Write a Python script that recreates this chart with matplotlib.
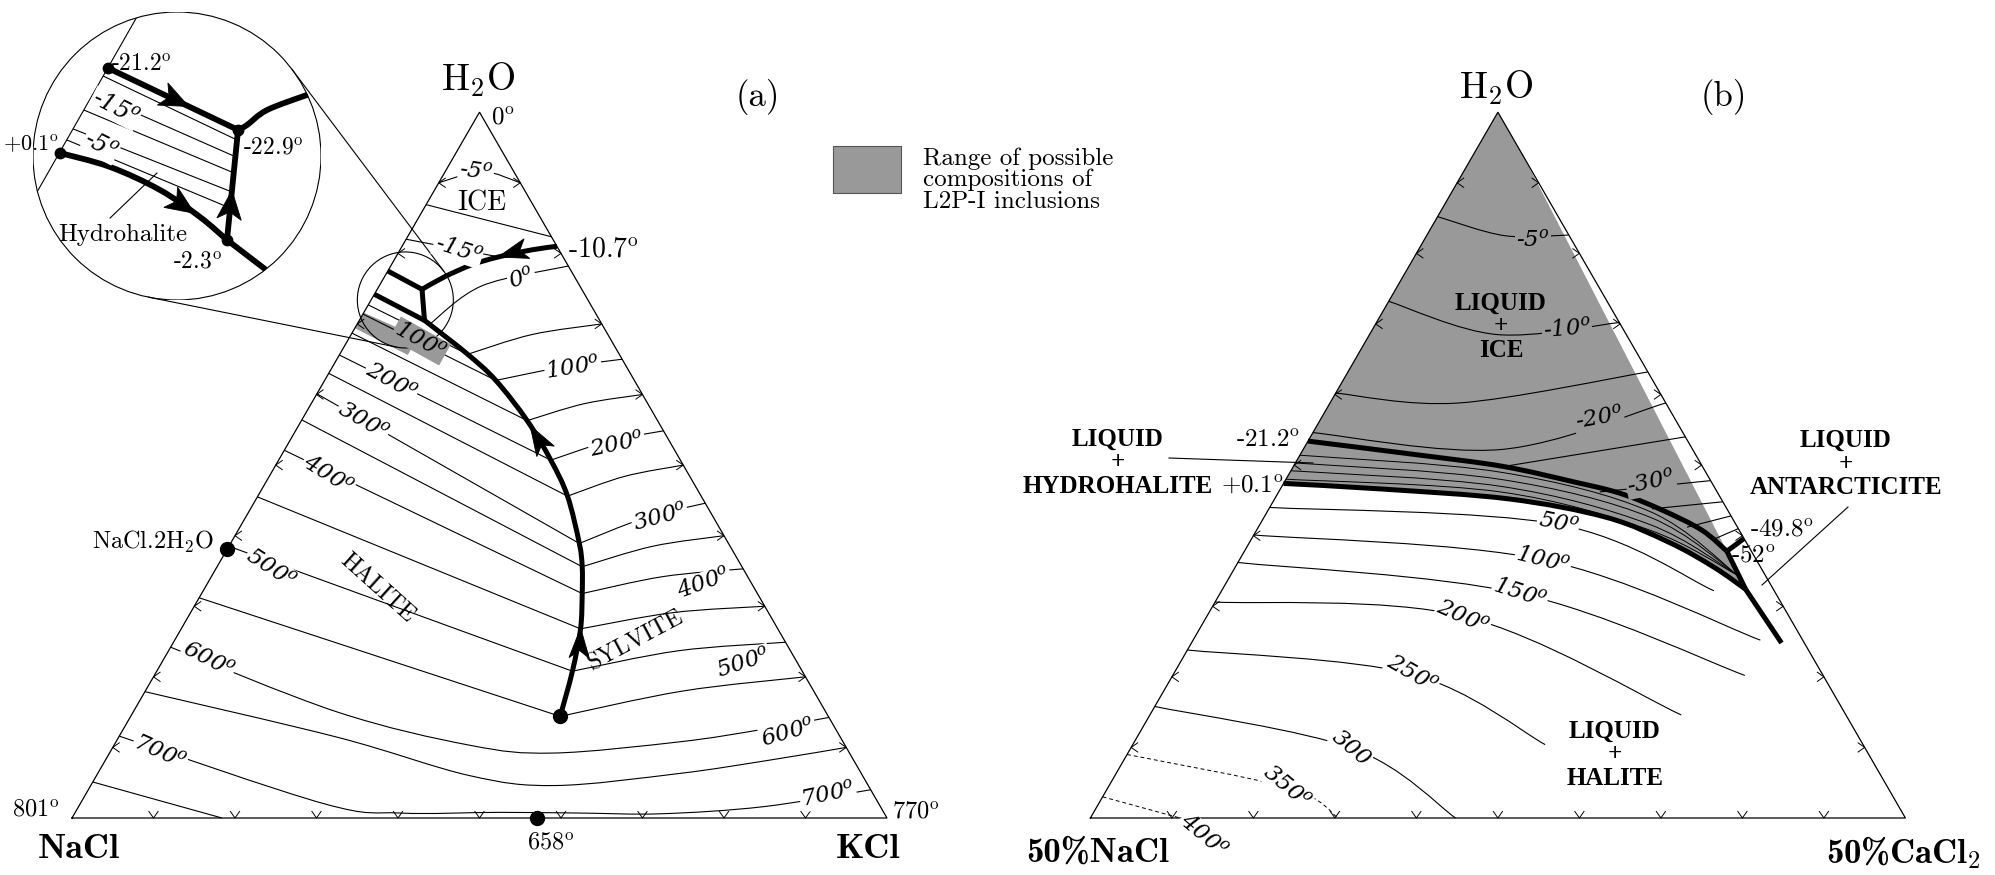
import numpy as np
import matplotlib
matplotlib.use("Agg")
import matplotlib.pyplot as plt
from matplotlib.path import Path
from matplotlib.patches import PathPatch, Circle, Polygon, Rectangle

plt.rcParams["mathtext.fontset"] = "cm"
plt.rcParams["axes.unicode_minus"] = False

W_PX, H_PX = 1995, 875
SIDE = 815.0        # triangle side, px
BASE_Y = 818.0      # common base line, px from top
A_X0 = 72.0         # left corner of panel (a)
B_X0 = 1090.4       # left corner of panel (b)
R3 = np.sqrt(3) / 2
GRAY = "#999999"

# ---------------------------------------------------------------
# (a) NaCl - KCl - H2O, compositions in wt% (H2O, KCl)
# ---------------------------------------------------------------
nacl_eut = (77.5, 0.0)        # -21.2
tern_eut = (74.9, 5.5)        # -22.9
tern_per = (70.5, 8.0)        # -2.3
hydrohalite = (38.1, 0.0)     # NaCl.2H2O
kcl_nacl_min = (0.0, 57.1)    # 658

ice_syl_h2o = [81.0, 80.5, 79.5, 78.4, 76.7, 74.9]
ice_syl_kcl = [19.0, 16.2, 12.6, 9.9, 7.4, 5.5]

hh_hal_h2o = [74.2, 72.4, 70.5]
hh_hal_kcl = [0.0, 3.9, 8.0]

# halite / sylvite cotectic, by temperature
cot_T = [-2.3, 0, 50, 100, 150, 200, 250, 300, 350, 400, 450, 500, 550]
cot_h2o = [70.5, 69.95, 65.7, 62.0, 56.3, 50.7, 45.6, 38.9, 35.6, 31.8, 26.8, 20.8, 14.4]
cot_kcl = [8.0, 8.9, 15.7, 21.0, 27.7, 33.4, 38.0, 42.8, 44.8, 46.7, 49.0, 51.0, 52.7]

# ice isotherms
ice5_h2o, ice5_kcl = [90.0, 91.6, 90.0], [0.0, 4.5, 10.0]
ice10_h2o, ice10_kcl = [86.9, 82.35], [0.0, 17.65]
ice15_h2o, ice15_kcl = [82.0, 79.5], [0.0, 12.6]

# halite isotherms: NaCl-H2O edge start -> cotectic
hal_T = [50, 100, 150, 200, 250, 300, 350, 400, 450, 500, 550]
hal_edge_h2o = [72.7, 71.4, 68.7, 65.6, 63.0, 60.1, 56.4, 52.1, 45.5, 38.5, 31.2]

# sylvite isotherms: cotectic -> mid -> KCl-H2O edge
syl_T = [0, 50, 100, 150, 200, 250, 300, 350, 400, 450, 500, 550]
syl_mid_h2o = [75.4, 68.5, 63.8, 58.7, 53.4, 48.4, 42.5, 38.5, 34.2, 29.1, 23.7, 18.0]
syl_mid_kcl = [12.6, 22.2, 27.9, 33.5, 39.2, 43.6, 49.0, 52.0, 55.4, 59.2, 62.6, 66.0]
syl_edge_h2o = [78.2, 70.0, 65.0, 60.0, 54.85, 50.0, 44.6, 40.0, 35.3, 30.0, 24.9, 20.0]

# high-temperature isotherms running over the NaCl-KCl minimum
iso600_h2o = [24.2, 15.0, 10.3, 9.2, 10.8, 12.5, 14.25]
iso600_kcl = [0.0, 25.1, 43.7, 54.4, 69.2, 78.2, 85.75]
iso650_h2o = [17.9, 11.4, 6.0, 4.6, 6.3, 8.2, 10.0]
iso650_kcl = [0.0, 27.0, 45.8, 57.0, 71.3, 81.5, 90.0]
iso700_h2o = [11.6, 2.0, 0.7, 0.8, 0.7, 0.6, 1.6, 4.0]
iso700_kcl = [0.0, 30.0, 40.0, 52.0, 62.0, 72.0, 84.0, 96.0]
iso750_h2o, iso750_kcl = [5.1, 0.0], [0.0, 18.4]

# L2P-I composition range
l2p_a_h2o = [71.6, 69.4, 65.6, 68.15]
l2p_a_kcl = [0.0, 0.0, 8.4, 8.4]

# magnified area
zoom_center = (73.4, 4.2)

# schematic enlargement (unit circle coordinates)
ins_edge = [(-0.271, 0.979), (-0.972, -0.25)]
ins_upper = [(-0.479, 0.611), (0.424, 0.181)]
ins_branch = [(0.424, 0.181), (0.486, 0.215), (0.625, 0.319), (0.903, 0.424), (1.05, 0.47)]
ins_vert = [(0.424, 0.181), (0.347, -0.583)]
ins_lower = [(-0.8125, 0.021), (-0.465, -0.076), (-0.118, -0.236), (0.160, -0.424), (0.347, -0.583)]
ins_lower_tail = [(0.347, -0.583), (0.611, -0.785), (0.85, -0.97)]
ins_iso = [[(-0.514, 0.556), (0.417, 0.111)],
           [(-0.583, 0.431), (0.410, -0.007)],
           [(-0.646, 0.319), (0.396, -0.118)],
           [(-0.722, 0.188), (0.382, -0.250)],
           [(-0.764, 0.111), (0.368, -0.361)]]
ins_dots = [(-0.479, 0.611), (-0.8125, 0.021), (0.424, 0.181), (0.347, -0.583)]
ins_pointer = [(-0.465, -0.431), (-0.139, -0.118)]

# ---------------------------------------------------------------
# (b) H2O - 50%NaCl - 50%CaCl2, compositions in wt% (NaCl, CaCl2)
# ---------------------------------------------------------------
b_ice_hh_nacl = [23.3, 16.9, 12.2, 8.4, 6.0, 4.0, 2.3, 1.5]
b_ice_hh_cacl = [0.0, 7.4, 12.9, 17.8, 21.0, 24.2, 27.3, 29.6]
b_hh_hal_nacl = [26.3, 20.4, 13.0, 7.7, 4.7, 2.85, 1.7]
b_hh_hal_cacl = [0.0, 6.3, 14.4, 21.0, 25.8, 29.4, 32.1]
b_eut_merge_nacl, b_eut_merge_cacl = [1.5, 1.7], [29.6, 32.1]
b_hal_ant_nacl, b_hal_ant_cacl = [1.7, 1.4], [32.1, 36.2]
b_ice_ant_nacl, b_ice_ant_cacl = [1.5, 0.0], [29.6, 30.2]
b_gray_edge = (0.0, 3.4)

b_ice_T = [-5, -10, -15, -20]
b_ice_nacl = [[7.4, 3.95, 0.0], [13.4, 7.95, 0.0], [19.9, 12.7, 0.0], [22.7, 11.8, 0.0]]
b_ice_cacl = [[0.0, 4.8, 8.7], [0.0, 7.8, 14.9], [0.0, 7.9, 18.4], [0.0, 12.1, 20.6]]
b_ice2_T = [-25, -30, -35, -40, -45]
b_ice2_nacl = [[12.2, 0.0], [7.2, 0.0], [4.6, 0.0], [3.1, 0.0], [2.0, 0.0]]
b_ice2_cacl = [[12.9, 23.0], [19.7, 26.1], [23.5, 27.6], [26.3, 28.6], [28.3, 29.5]]

b_hh_nacl = [[24.3, 12.6, 4.8, 1.7], [24.85, 12.9, 5.0, 1.7], [25.4, 13.1, 5.3, 1.7], [26.0, 13.3, 5.5, 1.7]]
b_hh_cacl = [[0.0, 12.9, 23.5, 31.1], [0.0, 13.1, 23.7, 31.1], [0.0, 13.4, 23.9, 31.1], [0.0, 13.6, 24.1, 31.1]]

b_hal_T = [50, 100, 150, 200, 250, 300]
b_hal_nacl = [[28.0, 10.9, 3.7], [29.95, 13.1, 2.6], [31.9, 15.7, 4.8],
              [34.7, 20.0, 10.1], [38.1, 25.2, 19.5], [42.1, 31.4, 27.6]]
b_hal_cacl = [[0.0, 18.3, 30.2], [0.0, 18.6, 34.8], [0.0, 18.4, 35.1],
              [0.0, 15.7, 32.6], [0.0, 14.6, 25.3], [0.0, 13.7, 22.4]]
b_dash_T = [350, 400]
b_dash_nacl = [[45.5, 36.7, 34.8], [48.5, 44.5]]
b_dash_cacl = [[0.0, 11.2, 15.2], [0.0, 5.5]]


def tern_a(h2o, kcl):
    h = np.asarray(h2o, float) / 100
    k = np.asarray(kcl, float) / 100
    return k + h / 2, R3 * h


def tern_b(nacl, cacl):
    n = np.asarray(nacl, float) / 50
    c = np.asarray(cacl, float) / 50
    w = 1 - n - c
    return c + w / 2, R3 * w


def smooth(x, y):
    x, y = np.asarray(x, float), np.asarray(y, float)
    n = len(x)
    if n < 3:
        return Path(np.column_stack([x, y]))
    verts, codes = [(x[0], y[0])], [Path.MOVETO]
    for i in range(n - 1):
        i0, i3 = max(i - 1, 0), min(i + 2, n - 1)
        c1 = (x[i] + (x[i + 1] - x[i0]) / 6, y[i] + (y[i + 1] - y[i0]) / 6)
        c2 = (x[i + 1] - (x[i3] - x[i]) / 6, y[i + 1] - (y[i3] - y[i]) / 6)
        verts += [c1, c2, (x[i + 1], y[i + 1])]
        codes += [Path.CURVE4] * 3
    return Path(verts, codes)


def curve(ax, x, y, lw=0.8, ls="-", z=3, clip=None):
    p = PathPatch(smooth(x, y), fill=False, lw=lw, ec="k", ls=ls,
                  capstyle="butt", joinstyle="round", zorder=z)
    ax.add_patch(p)
    if clip is not None:
        p.set_clip_path(clip)
    return p


def arrowhead(ax, x, y, frac, sign=1, length=0.037, width=0.025, clip=None):
    pts = np.column_stack([x, y])
    seg = np.diff(pts, axis=0)
    L = np.hypot(seg[:, 0], seg[:, 1])
    cum = np.concatenate([[0], np.cumsum(L)])
    s = frac * cum[-1]
    i = int(np.clip(np.searchsorted(cum, s) - 1, 0, len(L) - 1))
    tip = pts[i] + (s - cum[i]) / L[i] * seg[i]
    d = sign * seg[i] / L[i]
    nrm = np.array([-d[1], d[0]])
    back = tip - d * length
    tri = [tip, back + nrm * width / 2, tip - d * length * 0.75, back - nrm * width / 2]
    p = Polygon(tri, closed=True, fc="k", ec="k", lw=0.6, zorder=6)
    ax.add_patch(p)
    if clip is not None:
        p.set_clip_path(clip)


def frame(ax):
    ax.plot([0, 1, 0.5, 0], [0, 0, R3, 0], color="k", lw=0.9, zorder=4,
            solid_joinstyle="miter")
    arm = 8 / SIDE
    c, s = np.cos(np.radians(35)), np.sin(np.radians(35))
    for f in np.arange(1, 10) / 10:
        ax.plot([f - arm * s, f, f + arm * s], [arm * c, 0, arm * c], color="k", lw=0.7, zorder=4)
        lx, ly = f / 2, R3 * f
        ax.plot([lx + arm * c, lx, lx + arm * c], [ly + arm * s, ly, ly - arm * s], color="k", lw=0.7, zorder=4)
        rx = 1 - f / 2
        ax.plot([rx - arm * c, rx, rx - arm * c], [ly + arm * s, ly, ly - arm * s], color="k", lw=0.7, zorder=4)


fig = plt.figure(figsize=(W_PX / 100, H_PX / 100), dpi=100, facecolor="white")


def panel_axes(x0):
    ax = fig.add_axes([0, 0, 1, 1])
    ax.set_xlim(-x0 / SIDE, (W_PX - x0) / SIDE)
    ax.set_ylim(-(H_PX - BASE_Y) / SIDE, BASE_Y / SIDE)
    ax.set_axis_off()
    ax.patch.set_alpha(0)
    return ax


axa = panel_axes(A_X0)
axb = panel_axes(B_X0)
THICK = 3.6

# ------------------------------- panel (a)
frame(axa)
axa.add_patch(Polygon(np.column_stack(tern_a(l2p_a_h2o, l2p_a_kcl)), closed=True,
                      fc=GRAY, ec="none", zorder=1))

curve(axa, *tern_a(ice5_h2o, ice5_kcl))
curve(axa, *tern_a(ice10_h2o, ice10_kcl))
curve(axa, *tern_a(ice15_h2o, ice15_kcl))

cot = dict(zip(cot_T, zip(cot_h2o, cot_kcl)))
for T, h0 in zip(hal_T, hal_edge_h2o):
    h1, k1 = cot[T]
    curve(axa, *tern_a([h0, h1], [0.0, k1]))
for T, hm, km, he in zip(syl_T, syl_mid_h2o, syl_mid_kcl, syl_edge_h2o):
    h1, k1 = cot[T]
    curve(axa, *tern_a([h1, hm, he], [k1, km, 100 - he]))
curve(axa, *tern_a(iso600_h2o, iso600_kcl))
curve(axa, *tern_a(iso650_h2o, iso650_kcl))
curve(axa, *tern_a(iso700_h2o, iso700_kcl))
curve(axa, *tern_a(iso750_h2o, iso750_kcl))

xs, ys = tern_a(ice_syl_h2o, ice_syl_kcl)
curve(axa, xs, ys, lw=THICK, z=5)
arrowhead(axa, xs, ys, 0.42)
curve(axa, *tern_a([nacl_eut[0], tern_eut[0]], [nacl_eut[1], tern_eut[1]]), lw=THICK, z=5)
curve(axa, *tern_a(hh_hal_h2o, hh_hal_kcl), lw=THICK, z=5)
curve(axa, *tern_a([tern_eut[0], tern_per[0]], [tern_eut[1], tern_per[1]]), lw=THICK, z=5)
xs, ys = tern_a(cot_h2o, cot_kcl)
curve(axa, xs, ys, lw=THICK, z=5)
arrowhead(axa, xs, ys, 0.33, sign=-1)
arrowhead(axa, xs, ys, 0.80, sign=-1)

for h, k in [hydrohalite, kcl_nacl_min, (cot_h2o[-1], cot_kcl[-1])]:
    axa.plot(*tern_a(h, k), "o", ms=10, color="k", zorder=7)

# magnifier and enlargement
zx, zy = tern_a(*zoom_center)
z_r = 48.0
axa.add_patch(Circle((zx, zy), z_r / SIDE, fill=False, lw=0.8, ec="k", zorder=6))
small_c = np.array([A_X0 + zx * SIDE, BASE_Y - zy * SIDE])
big_c, big_r = np.array([177.0, 156.0]), 144.0

ins = fig.add_axes([(big_c[0] - big_r) / W_PX, (H_PX - big_c[1] - big_r) / H_PX,
                    2 * big_r / W_PX, 2 * big_r / H_PX])
ins.set_xlim(-1, 1)
ins.set_ylim(-1, 1)
ins.set_axis_off()
ins.patch.set_alpha(0)
clipc = Circle((0, 0), 1, transform=ins.transData)
ins.add_patch(Circle((0, 0), 1, fill=False, lw=0.8, ec="k"))
ln, = ins.plot(*zip(*ins_edge), color="k", lw=0.8)
ln.set_clip_path(clipc)
for seg in ins_iso:
    curve(ins, *zip(*seg), lw=0.8, clip=clipc)
for pts in (ins_upper, ins_branch, ins_vert, ins_lower, ins_lower_tail):
    curve(ins, *zip(*pts), lw=4.2, z=5, clip=clipc)
arrowhead(ins, *zip(*ins_upper), 0.62, length=0.2, width=0.17)
arrowhead(ins, *zip(*ins_vert), 0.55, sign=-1, length=0.2, width=0.17)
arrowhead(ins, *zip(*ins_lower), 0.78, length=0.2, width=0.17)
for p in ins_dots:
    ins.plot(*p, "o", ms=7.5, color="k", zorder=7)
ins.plot(*zip(*ins_pointer), color="k", lw=0.8)

# external tangents between the two circles
d = small_c - big_c
dist = np.hypot(*d)
th = np.arctan2(d[1], d[0])
a = np.arccos((big_r - z_r) / dist)

# ------------------------------- panel (b)
gx, gy = tern_b([0.0, 26.3] + b_hh_hal_nacl[1:] + [1.5, b_gray_edge[0]],
                [0.0, 0.0] + b_hh_hal_cacl[1:] + [29.6, b_gray_edge[1]])
axb.add_patch(Polygon(np.column_stack([gx, gy]), closed=True, fc=GRAY, ec="none", zorder=1))
frame(axb)

for n, c in zip(b_ice_nacl, b_ice_cacl):
    curve(axb, *tern_b(n, c))
for n, c in zip(b_ice2_nacl, b_ice2_cacl):
    curve(axb, *tern_b(n, c))
for n, c in zip(b_hh_nacl, b_hh_cacl):
    curve(axb, *tern_b(n, c), lw=0.7)
for n, c in zip(b_hal_nacl, b_hal_cacl):
    curve(axb, *tern_b(n, c))
for n, c in zip(b_dash_nacl, b_dash_cacl):
    curve(axb, *tern_b(n, c), ls=(0, (4, 3)), lw=0.7)

curve(axb, *tern_b(b_ice_hh_nacl, b_ice_hh_cacl), lw=THICK, z=5)
curve(axb, *tern_b(b_hh_hal_nacl, b_hh_hal_cacl), lw=THICK, z=5)
curve(axb, *tern_b(b_eut_merge_nacl, b_eut_merge_cacl), lw=THICK, z=5)
curve(axb, *tern_b(b_hal_ant_nacl, b_hal_ant_cacl), lw=THICK, z=5)
curve(axb, *tern_b(b_ice_ant_nacl, b_ice_ant_cacl), lw=THICK, z=5)

# ------------------------------- text layer (pixel coordinates)
lay = fig.add_axes([0, 0, 1, 1])
lay.set_xlim(0, W_PX)
lay.set_ylim(H_PX, 0)
lay.set_axis_off()
lay.patch.set_alpha(0)

for phi in (th + a, th - a):
    u = np.array([np.cos(phi), np.sin(phi)])
    p1, p2 = big_c + big_r * u, small_c + z_r * u
    lay.plot([p1[0], p2[0]], [p1[1], p2[1]], color="k", lw=0.8)


def txt(x, y, s, size=16, kind="rm", rot=0, ha="center", va="center", bg=None, ax=None, ls=1.2):
    kw = dict(fontsize=size, rotation=rot, ha=ha, va=va, rotation_mode="anchor",
              zorder=10, linespacing=ls)
    if kind == "rm":
        kw.update(family="cmr10")
    elif kind == "it":
        kw.update(family="DejaVu Serif", style="italic", math_fontfamily="dejavuserif")
    elif kind == "bf":
        kw.update(family="cmb10")
    elif kind == "reg":
        kw.update(family="Liberation Serif", weight="bold")
    if bg is not None:
        kw["bbox"] = dict(boxstyle="square,pad=0.05", fc=bg, ec="none")
    (ax or lay).text(x, y, s, **kw)


DEG = r"$^{\rm o}$"
IDEG = r"$^{o}$"
ISZ = 16.5

# panel (a) labels
txt(478, 80, r"H$_2$O", 27)
txt(758, 97, "(a)", 25)
txt(503, 118, "0" + DEG, 18)
txt(603, 250, "-10.7" + DEG, 20)
txt(482, 203, "ICE", 20)
txt(476, 172, "-5" + IDEG, ISZ, "it", rot=-8, bg="white")
txt(458, 250, "-15" + IDEG, ISZ, "it", rot=-18, bg="white")
txt(522, 279, "0" + IDEG, ISZ, "it", rot=18, bg="white")
txt(420, 341, "100" + IDEG, ISZ, "it", rot=-29, bg=GRAY)
for (x, y, s, r) in [(391, 382, "200", -29), (363, 421, "300", -30),
                     (328, 475, "400", -32), (271, 569, "500", -33), (208, 660, "600", -27),
                     (160, 752, "700", -24)]:
    txt(x, y, s + IDEG, ISZ, "it", rot=r, bg="white")
for (x, y, s, r) in [(573, 368, "100", 9), (617, 445, "200", 12), (660, 518, "300", 15),
                     (704, 584, "400", 20), (743, 663, "500", 18), (788, 733, "600", 16),
                     (828, 795, "700", 12)]:
    txt(x, y, s + IDEG, ISZ, "it", rot=r, bg="white")
txt(377, 588, "HALITE", 17, rot=-42)
txt(636, 641, "SYLVITE", 17, rot=28)
txt(214, 542, r"NaCl.2H$_2$O", 17.5, ha="right")
txt(60, 810, "801" + DEG, 17.5, ha="right")
txt(892, 812, "770" + DEG, 17.5, ha="left")
txt(551, 843, "658" + DEG, 17.5)
txt(79, 849, "NaCl", 26, "bf")
txt(868, 849, "KCl", 26, "bf")

# enlargement labels (unit circle coords)
txt(-0.455, 0.632, "-21.2" + DEG, 17, ha="left", ax=ins)
txt(0.46, 0.05, "-22.9" + DEG, 17, ha="left", ax=ins)
txt(-0.82, 0.08, "+0.1" + DEG, 16, ha="right", ax=ins)
txt(0.14, -0.74, "-2.3" + DEG, 17, ax=ins)
txt(-0.375, -0.55, "Hydrohalite", 18, ax=ins)
txt(-0.43, 0.33, "-15" + IDEG, 17, "it", rot=-27, bg="white", ax=ins)
txt(-0.53, 0.07, "-5" + IDEG, 17, "it", rot=-27, bg="white", ax=ins)

# legend
lay.add_patch(Rectangle((833, 146), 68, 47, fc=GRAY, ec="#555555", lw=0.8))
txt(923, 180, "Range of possible\ncompositions of\nL2P-I inclusions", 18, ha="left",
    va="center", ls=0.95)

# panel (b) labels
txt(1496, 88, r"H$_2$O", 27)
txt(1724, 97, "(b)", 25)
txt(1501, 327, "LIQUID\n+\nICE", 18, "reg", ls=1.05)
txt(1118, 463, "LIQUID\n+\nHYDROHALITE", 18, "reg", ls=1.05)
txt(1846, 464, "LIQUID\n+\nANTARCTICITE", 18, "reg", ls=1.05)
txt(1615, 755, "LIQUID\n+\nHALITE", 18, "reg", ls=1.05)
txt(1300, 441, "-21.2" + DEG, 18, ha="right")
txt(1284, 486, "+0.1" + DEG, 18, ha="right")
txt(1750, 530, "-49.8" + DEG, 18, ha="left")
txt(1731, 556, "-52" + DEG, 18, ha="left")
for (x, y, s, r) in [(1533, 240, "-5", 0), (1567, 330, "-10", 5), (1599, 418, "-20", 10),
                     (1651, 483, "-30", 12)]:
    txt(x, y, s + IDEG, ISZ, "it", rot=r, bg=GRAY)
for (x, y, s, r) in [(1558, 524, "50" + IDEG, -12), (1543, 560, "100" + IDEG, -14),
                     (1520, 593, "150" + IDEG, -18), (1463, 617, "200" + IDEG, -24),
                     (1412, 674, "250" + IDEG, -30), (1351, 748, "300", -40),
                     (1287, 787, "350" + IDEG, -40), (1203, 836, "400" + IDEG, -40)]:
    txt(x, y, s, ISZ, "it", rot=r, bg="white")
lay.plot([1169, 1313], [458, 463], color="k", lw=0.8)
lay.plot([1848, 1762], [507, 585], color="k", lw=0.8)
txt(1098, 853, "50%NaCl", 25, "bf")
txt(1903, 853, r"50%CaCl$_\mathbf{2}$", 25, "bf")

fig.savefig("out.png", dpi=100, facecolor="white")
